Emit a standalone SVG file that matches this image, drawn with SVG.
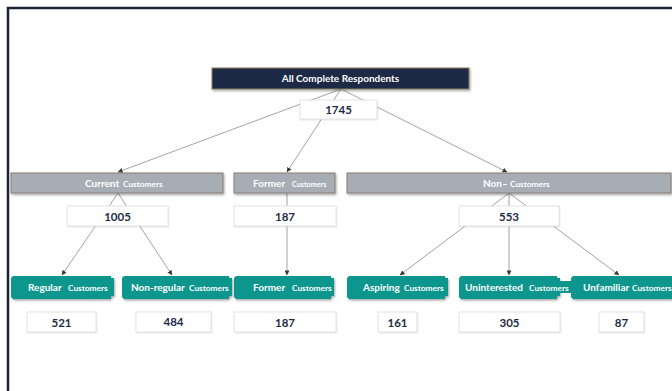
<svg xmlns="http://www.w3.org/2000/svg" width="672" height="391" viewBox="0 0 672 391">
<defs>
<style>
.frame{fill:none;stroke:#1b2338;stroke-width:2.5}
.hdr{fill:#1c2a45;stroke:#8a7b5c;stroke-width:1}
.gray{fill:#a6adb4;stroke:#8c7d70;stroke-width:1}
.teal{fill:#0f968d}
.num{fill:#ffffff;stroke:#dcdcdc;stroke-width:0.8}
.conn{stroke:#8c8c8c;stroke-width:0.8;fill:none}
.t{font-family:Lato,"Liberation Sans",sans-serif;font-weight:bold;fill:#ffffff}
.big{font-size:10px}
.sm{font-size:8.3px}
.xs{font-size:7.2px}
.n{font-family:Lato,"Liberation Sans",sans-serif;font-weight:bold;font-size:11.5px;fill:#1d2b45;text-anchor:middle}
</style>
<marker id="ah" viewBox="0 0 6 6" refX="5.5" refY="3" markerWidth="5" markerHeight="5" orient="auto" markerUnits="userSpaceOnUse">
<path d="M0,0 L6,3 L0,6 Z" fill="#3a3a3a"/>
</marker>
<filter id="sh" x="-5%" y="-20%" width="110%" height="160%">
<feDropShadow dx="1" dy="1.5" stdDeviation="0.8" flood-color="#000" flood-opacity="0.35"/>
</filter>
<filter id="shl" x="-5%" y="-20%" width="110%" height="160%">
<feDropShadow dx="0.6" dy="0.8" stdDeviation="0.5" flood-color="#000" flood-opacity="0.15"/>
</filter>
</defs>
<rect width="672" height="391" fill="#ffffff"/>
<path class="frame" d="M8,391 L8,8 L672,8"/>

<g id="connectors">
<line class="conn" x1="341" y1="89" x2="118" y2="172" marker-end="url(#ah)"/>
<line class="conn" x1="341" y1="89" x2="287" y2="172" marker-end="url(#ah)"/>
<line class="conn" x1="341" y1="89" x2="507" y2="172" marker-end="url(#ah)"/>
<line class="conn" x1="118" y1="193" x2="62" y2="275" marker-end="url(#ah)"/>
<line class="conn" x1="118" y1="193" x2="172" y2="275" marker-end="url(#ah)"/>
<line class="conn" x1="287" y1="193" x2="287" y2="275" marker-end="url(#ah)"/>
<line class="conn" x1="509" y1="193" x2="400" y2="275" marker-end="url(#ah)"/>
<line class="conn" x1="509" y1="193" x2="509" y2="275" marker-end="url(#ah)"/>
<line class="conn" x1="509" y1="193" x2="619" y2="275" marker-end="url(#ah)"/>
</g>

<g id="root">
<rect class="hdr" x="212" y="68" width="257" height="21" filter="url(#sh)"/>
<text class="t big" x="340.5" y="82" text-anchor="middle">All Complete Respondents</text>
</g>
<g id="root-count">
<rect class="num" x="300" y="100" width="77" height="19" filter="url(#shl)"/>
<text class="n" x="338.5" y="114">1745</text>
</g>

<g id="current">
<rect class="gray" x="11" y="173" width="212" height="20" filter="url(#sh)"/>
<text class="t" y="186.5"><tspan class="big" x="85">Current</tspan><tspan class="sm" x="123">Customers</tspan></text>
</g>
<g id="former-group">
<rect class="gray" x="234" y="173" width="101" height="20" filter="url(#sh)"/>
<text class="t" y="186.5"><tspan class="big" x="253">Former</tspan><tspan class="xs" x="292">Customers</tspan></text>
</g>
<g id="non">
<rect class="gray" x="347" y="173" width="324" height="20" filter="url(#sh)"/>
<text class="t" y="186.5"><tspan class="big" x="483">Non–</tspan><tspan class="sm" x="510">Customers</tspan></text>
</g>

<g id="current-count">
<rect class="num" x="67" y="206" width="101" height="20" filter="url(#shl)"/>
<text class="n" x="117.5" y="220.5">1005</text>
</g>
<g id="former-count">
<rect class="num" x="234" y="206" width="102" height="20" filter="url(#shl)"/>
<text class="n" x="285" y="220.5">187</text>
</g>
<g id="non-count">
<rect class="num" x="459" y="206" width="100" height="20" filter="url(#shl)"/>
<text class="n" x="509" y="220.5">553</text>
</g>

<g id="regular">
<path class="teal" filter="url(#sh)" d="M11,278 L13,276 L111,276 L111,278 L114,278 L114,296 L111,296 L111,299 L13,299 L11,297 Z"/>
<text class="t" y="290.5"><tspan class="big" x="28">Regular</tspan><tspan class="sm" x="68">Customers</tspan></text>
</g>
<g id="nonregular">
<path class="teal" filter="url(#sh)" d="M122,278 L124,276 L229,276 L229,278 L232,278 L232,296 L229,296 L229,299 L124,299 L122,297 Z"/>
<text class="t" y="290.5"><tspan class="big" x="131">Non-regular</tspan><tspan class="sm" x="189">Customers</tspan></text>
</g>
<g id="former">
<path class="teal" filter="url(#sh)" d="M234,278 L236,276 L331,276 L331,278 L334,278 L334,296 L331,296 L331,299 L236,299 L234,297 Z"/>
<text class="t" y="290.5"><tspan class="big" x="253">Former</tspan><tspan class="sm" x="292">Customers</tspan></text>
</g>
<g id="aspiring">
<path class="teal" filter="url(#sh)" d="M347,278 L349,276 L445,276 L445,278 L448,278 L448,296 L445,296 L445,299 L349,299 L347,297 Z"/>
<text class="t" y="290.5"><tspan class="big" x="363">Aspiring</tspan><tspan class="sm" x="404">Customers</tspan></text>
</g>
<g id="uninterested">
<path class="teal" filter="url(#sh)" d="M459,278 L461,276 L557,276 L557,278 L560,278 L560,296 L557,296 L557,299 L461,299 L459,297 Z"/>
<rect class="teal" x="558" y="281" width="14" height="12"/>
<text class="t" y="290.5"><tspan class="big" x="465">Uninterested</tspan><tspan class="sm" x="529">Customers</tspan></text>
</g>
<g id="unfamiliar">
<path class="teal" filter="url(#sh)" d="M571,278 L573,276 L672,276 L672,299 L573,299 L571,297 Z"/>
<text class="t" y="290.5"><tspan class="big" x="583">Unfamiliar</tspan></text>
<rect class="teal" x="630" y="281" width="42" height="12"/>
<text class="t" y="290.5"><tspan class="sm" x="632">Customers</tspan></text>
</g>

<g id="regular-count">
<rect class="num" x="27" y="312" width="69" height="20" filter="url(#shl)"/>
<text class="n" x="61.5" y="326.5">521</text>
</g>
<g id="nonregular-count">
<rect class="num" x="136" y="312" width="75" height="20" filter="url(#shl)"/>
<text class="n" x="173.5" y="325.5">484</text>
</g>
<g id="former-count2">
<rect class="num" x="234" y="312" width="102" height="20" filter="url(#shl)"/>
<text class="n" x="285" y="326.5">187</text>
</g>
<g id="aspiring-count">
<rect class="num" x="378" y="312" width="39" height="20" filter="url(#shl)"/>
<text class="n" x="397.5" y="326.5">161</text>
</g>
<g id="uninterested-count">
<rect class="num" x="459" y="312" width="101" height="20" filter="url(#shl)"/>
<text class="n" x="509.5" y="326.5">305</text>
</g>
<g id="unfamiliar-count">
<rect class="num" x="599" y="312" width="45" height="20" filter="url(#shl)"/>
<text class="n" x="621.5" y="326.5">87</text>
</g>
</svg>
